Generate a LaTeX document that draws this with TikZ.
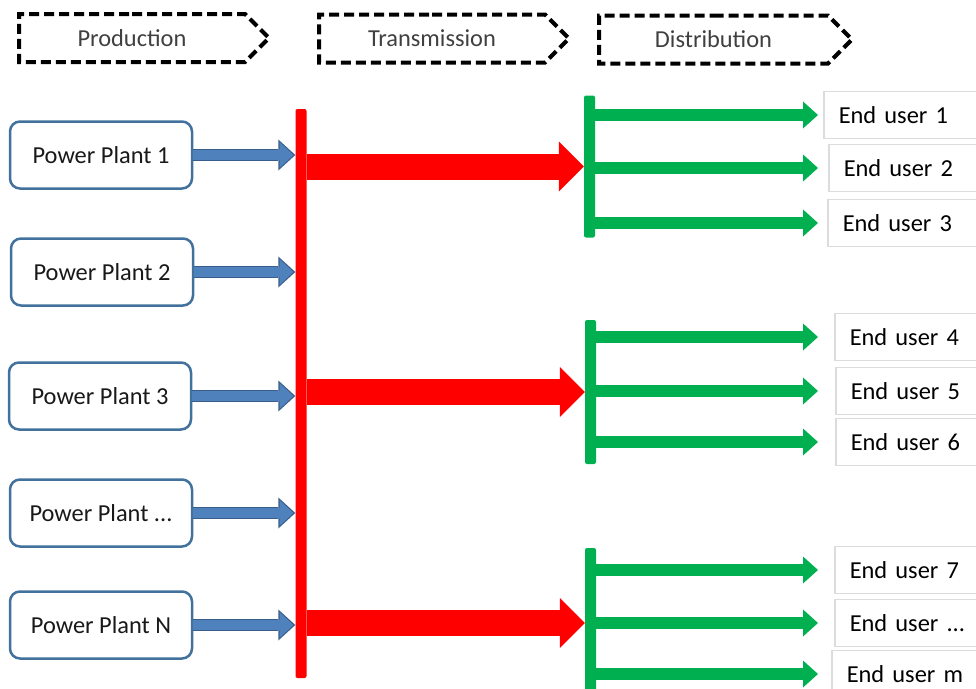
\documentclass[tikz,border=0pt]{standalone}
\usepackage{fontspec}
\setmainfont{Carlito}
\usetikzlibrary{arrows.meta}
\usetikzlibrary{shapes.symbols}

\definecolor{plantblue}{HTML}{41719C}
\definecolor{feedblue}{HTML}{4F81BD}
\definecolor{feededge}{HTML}{385D8A}
\definecolor{lvgreen}{HTML}{00B050}
\definecolor{usergray}{HTML}{DCDCDC}

\tikzset{stage/.style={signal, signal to=east, signal pointer angle=90,
         draw=black, line width=4pt, dash pattern=on 10pt off 5pt,
         minimum width=250pt, minimum height=48pt, inner sep=0pt, text=black!75},
         plant/.style={draw=plantblue, line width=2.5pt, rounded corners=10pt, fill=white,
         minimum width=182pt, minimum height=67pt, inner sep=0pt, text=black!90},
         user/.style={draw=usergray, line width=1.5pt, anchor=west, minimum height=47pt,
         inner xsep=15pt, inner ysep=0pt, text width=150pt, align=left},
         bar/.style={inner sep=0pt, minimum width=11pt, rounded corners=2pt},
         feed/.style={draw=feedblue, line width=10pt, shorten >=1.8pt,
         -{Triangle[length=14pt,width=26pt,line width=0pt]},
         preaction={draw=feededge, line width=12.5pt, shorten >=0pt,
         -{Triangle[length=17pt,width=31pt,line width=0pt]}}},
         trans/.style={draw=red, line width=26pt,
         -{Triangle[length=25pt,width=50pt,line width=0pt]}},
         dist/.style={draw=lvgreen, line width=12pt,
         -{Triangle[length=15pt,width=27pt,line width=0pt]}}}

\begin{document}
\begin{tikzpicture}[x=1pt, y=-1pt, font=\fontsize{24.4}{28}\selectfont]
        \useasboundingbox (0,0) rectangle (976,688);
        \clip (0,0) rectangle (976,688);

        % Stages
        \node[stage] (prod) at (132,38) {Production};
        \node[stage] (trsm) at (432,38.5) {Transmission};
        \node[stage, minimum width=253pt] (dstr) at (713.5,39.5) {Distribution};

        % Power plants
        \node[plant] (pp1) at (101,155) {Power Plant 1};
        \node[plant] (pp2) at (102,272) {Power Plant 2};
        \node[plant] (pp3) at (100,396) {Power Plant 3};
        \node[plant] (pp4) at (101,513) {Power Plant ...};
        \node[plant] (pp5) at (101,625) {Power Plant N};

        % Bars
        \node[bar, fill=red, minimum height=569pt] (bus) at (301,393.5) {};
        \node[bar, fill=lvgreen, minimum height=142pt] (dbar1) at (589.5,166.5) {};
        \node[bar, fill=lvgreen, minimum height=144pt] (dbar2) at (590.5,392) {};
        \node[bar, fill=lvgreen, minimum height=150pt] (dbar3) at (590.5,623) {};

        % End users
        \node[user] (u1) at (823,115) {End user 1};
        \node[user] (u2) at (828,168) {End user 2};
        \node[user] (u3) at (827,223) {End user 3};
        \node[user] (u4) at (834,337) {End user 4};
        \node[user] (u5) at (835,391) {End user 5};
        \node[user] (u6) at (835,442) {End user 6};
        \node[user] (u7) at (834,570) {End user 7};
        \node[user] (u8) at (834,623) {End user ...};
        \node[user] (u9) at (831,674) {End user m};

        \coordinate (reach) at (818,0);

        % Feeds into the grid
        \foreach \p in {pp1,pp2,pp3,pp4,pp5}
            \draw[feed] (\p) -- (\p -| bus.west);

        % Transmission lines
        \foreach \b in {dbar1,dbar2,dbar3}
            \draw[trans] (bus.east |- \b) -- (\b.west);

        % Distribution lines
        \foreach \b/\u in {dbar1/u1,dbar1/u2,dbar1/u3,dbar2/u4,dbar2/u5,dbar2/u6,dbar3/u7,dbar3/u8,dbar3/u9}
            \draw[dist] (\b.east |- \u) -- (reach |- \u);

    \end{tikzpicture}
\end{document}
